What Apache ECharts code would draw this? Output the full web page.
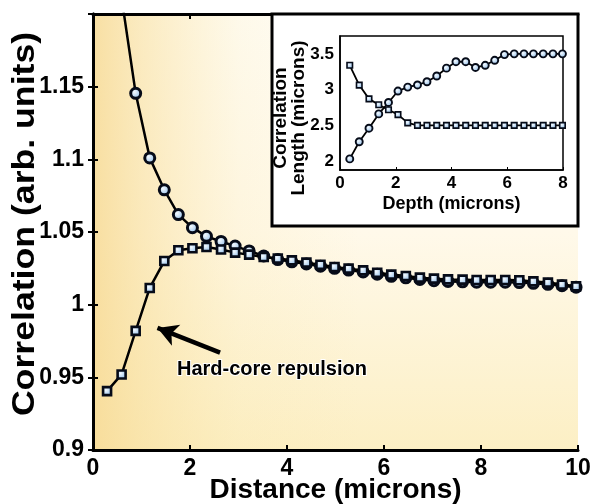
<!DOCTYPE html>
<html>
<head>
<meta charset="utf-8">
<script src="https://cdn.jsdelivr.net/npm/echarts@6/dist/echarts.min.js"></script>
<style>html,body{margin:0;padding:0;background:#fff}#main{width:591px;height:504px}</style>
</head>
<body>
<div id="main"></div>
<script>
// main plot: correlation vs distance
var distance = [0.29,0.59,0.88,1.17,1.47,1.76,2.05,2.34,2.64,2.93,3.22,3.52,3.81,4.10,4.40,4.69,4.98,5.27,5.57,5.86,6.15,6.45,6.74,7.03,7.32,7.62,7.91,8.20,8.50,8.79,9.08,9.38,9.67,9.96];
var corrCircle = [1.40,1.211,1.1454,1.101,1.079,1.062,1.053,1.047,1.0435,1.0403,1.037,1.0335,1.031,1.0295,1.028,1.0265,1.025,1.0238,1.0225,1.021,1.0195,1.0185,1.0173,1.0165,1.016,1.0157,1.0155,1.0155,1.0155,1.0152,1.0147,1.014,1.013,1.012];
var corrSquare = [0.9405,0.952,0.982,1.0115,1.030,1.0374,1.0388,1.0397,1.038,1.0358,1.0344,1.0328,1.0317,1.0305,1.0289,1.0275,1.0259,1.0248,1.0236,1.022,1.0207,1.0197,1.0186,1.0179,1.0174,1.0172,1.017,1.017,1.017,1.0168,1.016,1.0152,1.0138,1.0126];
// inset: correlation length vs depth
var depth = [0.35,0.69,1.04,1.39,1.74,2.08,2.43,2.78,3.12,3.47,3.82,4.16,4.51,4.86,5.21,5.55,5.90,6.25,6.60,6.94,7.29,7.64,7.98];
var lenCircle = [2.03,2.27,2.46,2.66,2.82,2.98,3.035,3.065,3.11,3.19,3.30,3.39,3.39,3.31,3.34,3.41,3.49,3.50,3.50,3.50,3.50,3.50,3.50];
var lenSquare = [3.34,3.063,2.87,2.787,2.718,2.65,2.535,2.50,2.50,2.50,2.50,2.50,2.50,2.50,2.50,2.50,2.50,2.50,2.50,2.50,2.50,2.50,2.50];
// annotation
var arrowFrom = [2.62, 0.967];
var arrowTo = [1.33, 0.984];
var noteAt = [3.69, 0.9556];
var noteText = 'Hard-core repulsion';

var FONT = 'Liberation Sans, Arial, Helvetica, sans-serif';

function zip(xs, ys) {
    return xs.map(function (x, i) { return [x, ys[i]]; });
}
function fill() {//light blue marker fill
    return new echarts.graphic.RadialGradient(0.4, 0.4, 0.6, [
        {offset: 0, color: '#f4faff'},
        {offset: 1, color: '#8dbbe8'}
    ]);
}
function fmt(v) { return String(+v.toFixed(2)); }

var myChart = echarts.init(document.getElementById('main'));

var labelMain = {fontFamily: FONT, fontWeight: 'bold', fontSize: 23, color: '#000'};
var labelInset = {fontFamily: FONT, fontWeight: 'bold', fontSize: 17, color: '#000'};

option = {
    animation: false,
    backgroundColor: '#fff',
    grid: [
        {left: 93, right: 13, top: 14, bottom: 54, show: true, borderWidth: 0, outerBoundsMode: 'none',
         backgroundColor: new echarts.graphic.LinearGradient(0, 0, 0, 1, [
             {offset: 0, color: '#fffefa'},
             {offset: 0.5, color: '#fff9ea'},
             {offset: 1, color: '#fcefc4'}
         ])},
        {left: 340, right: 28, top: 36, bottom: 334, show: true, z: 21, outerBoundsMode: 'none',
         backgroundColor: 'transparent', borderColor: '#000', borderWidth: 1.5}
    ],
    xAxis: [
        {gridIndex: 0, type: 'value', min: 0, max: 10, interval: 2, z: 3,
         name: 'Distance (microns)', nameLocation: 'middle', nameGap: 26, nameMoveOverlap: false,
         nameTextStyle: {fontFamily: FONT, fontWeight: 'bold', fontSize: 28, color: '#000'},
         axisLine: {lineStyle: {color: '#000', width: 3}},
         axisTick: {inside: true, length: 5, lineStyle: {color: '#000', width: 2}},
         axisLabel: Object.assign({margin: 7}, labelMain),
         splitLine: {show: false}},
        {gridIndex: 0, type: 'value', position: 'top', min: 0, max: 10, interval: 2, z: 3,
         axisLine: {lineStyle: {color: '#000', width: 3}},
         axisTick: {inside: true, length: 5, lineStyle: {color: '#000', width: 2}},
         axisLabel: {show: false}, splitLine: {show: false}},
        {gridIndex: 1, type: 'value', min: 0, max: 8, interval: 2, z: 22,
         name: 'Depth (microns)', nameLocation: 'middle', nameGap: 25, nameMoveOverlap: false,
         nameTextStyle: {fontFamily: FONT, fontWeight: 'bold', fontSize: 18, color: '#000'},
         axisLine: {lineStyle: {color: '#000', width: 1.5}},
         axisTick: {inside: true, length: 3, lineStyle: {color: '#000', width: 1}},
         axisLabel: Object.assign({margin: 5}, labelInset),
         splitLine: {show: false}}
    ],
    yAxis: [
        {gridIndex: 0, type: 'value', min: 0.9, max: 1.2, interval: 0.05, z: 3,
         axisLine: {lineStyle: {color: '#000', width: 3}},
         axisTick: {inside: true, length: 5, lineStyle: {color: '#000', width: 2}},
         axisLabel: Object.assign({margin: 9, formatter: function (v) { return v > 1.19 ? '' : fmt(v); }}, labelMain),
         splitLine: {show: false}},
        {gridIndex: 0, type: 'value', position: 'right', min: 0.9, max: 1.2, interval: 0.05, z: 3,
         axisLine: {lineStyle: {color: '#000', width: 3}},
         axisTick: {inside: true, length: 5, lineStyle: {color: '#000', width: 2}},
         axisLabel: {show: false}, splitLine: {show: false}},
        {gridIndex: 1, type: 'value', min: 1.875, max: 3.75, interval: 0.125, z: 22,
         axisLine: {lineStyle: {color: '#000', width: 1.5}},
         axisTick: {show: false},
         axisLabel: Object.assign({margin: 6, formatter: function (v) {
             return Math.abs(v * 2 - Math.round(v * 2)) < 1e-6 ? fmt(v) : '';
         }}, labelInset),
         splitLine: {show: false}}
    ],
    series: [
        {name: 'circles', type: 'line', xAxisIndex: 0, yAxisIndex: 0, z: 4,
         data: zip(distance, corrCircle), clip: true,
         symbol: 'circle', symbolSize: 10, showAllSymbol: true,
         lineStyle: {color: '#000', width: 2.5},
         itemStyle: {color: fill(), borderColor: '#060b18', borderWidth: 3}},
        {name: 'squares', type: 'line', xAxisIndex: 0, yAxisIndex: 0, z: 5,
         data: zip(distance, corrSquare), clip: true,
         symbol: 'rect', symbolSize: 8, showAllSymbol: true,
         lineStyle: {color: '#000', width: 2.5},
         itemStyle: {color: fill(), borderColor: '#060b18', borderWidth: 2.6},
         markLine: {
             silent: true, symbol: ['none', 'arrow'], symbolSize: [17, 20],
             label: {show: false},
             lineStyle: {color: '#000', width: 4.5, type: 'solid'},
             data: [[{coord: arrowFrom}, {coord: arrowTo}]]
         }},
        {name: 'inset circles', type: 'line', xAxisIndex: 2, yAxisIndex: 2, z: 23,
         data: zip(depth, lenCircle), clip: true,
         symbol: 'circle', symbolSize: 7, showAllSymbol: true,
         lineStyle: {color: '#000', width: 1.8},
         itemStyle: {color: fill(), borderColor: '#060b18', borderWidth: 1.9}},
        {name: 'inset squares', type: 'line', xAxisIndex: 2, yAxisIndex: 2, z: 24,
         data: zip(depth, lenSquare), clip: true,
         symbol: 'rect', symbolSize: 5.5, showAllSymbol: true,
         lineStyle: {color: '#000', width: 1.8},
         itemStyle: {color: fill(), borderColor: '#060b18', borderWidth: 1.6}}
    ],
    graphic: [
        // yellow wash from the left edge of the main plot
        {type: 'rect', z: 1, silent: true, shape: {x: 93, y: 14, width: 485, height: 436},
         style: {fill: new echarts.graphic.LinearGradient(0, 0, 1, 0, [
             {offset: 0, color: 'rgba(247,218,148,0.85)'},
             {offset: 0.1, color: 'rgba(248,222,155,0.6)'},
             {offset: 0.3, color: 'rgba(250,230,170,0.2)'},
             {offset: 0.55, color: 'rgba(250,230,170,0)'},
             {offset: 1, color: 'rgba(250,230,170,0)'}
         ])}},
        // main y-axis title
        {type: 'text', z: 5, silent: true, x: 25, y: 224, rotation: Math.PI / 2, scaleX: 1.15,
         style: {text: 'Correlation (arb. units)', align: 'center', verticalAlign: 'middle',
                 font: 'bold 31px ' + FONT, fill: '#000'}},
        // inset box
        {type: 'rect', z: 20, silent: true, shape: {x: 272, y: 14, width: 306, height: 212},
         style: {fill: '#fff', stroke: '#000', lineWidth: 3}},
        {type: 'text', z: 25, silent: true, x: 290, y: 118, rotation: Math.PI / 2,
         style: {text: 'Correlation\nLength (microns)', align: 'center', verticalAlign: 'middle',
                 font: 'bold 19px ' + FONT, lineHeight: 18, fill: '#000'}}
    ]
};
myChart.setOption(option);

var p = myChart.convertToPixel({gridIndex: 0}, noteAt);
myChart.setOption({graphic: option.graphic.concat([
    {type: 'text', z: 10, silent: true, x: p[0], y: p[1],
     style: {text: noteText, align: 'center', verticalAlign: 'middle',
             font: 'bold 20px ' + FONT, fill: '#000', stroke: '#fff', lineWidth: 2}}
])});
</script>
</body>
</html>
